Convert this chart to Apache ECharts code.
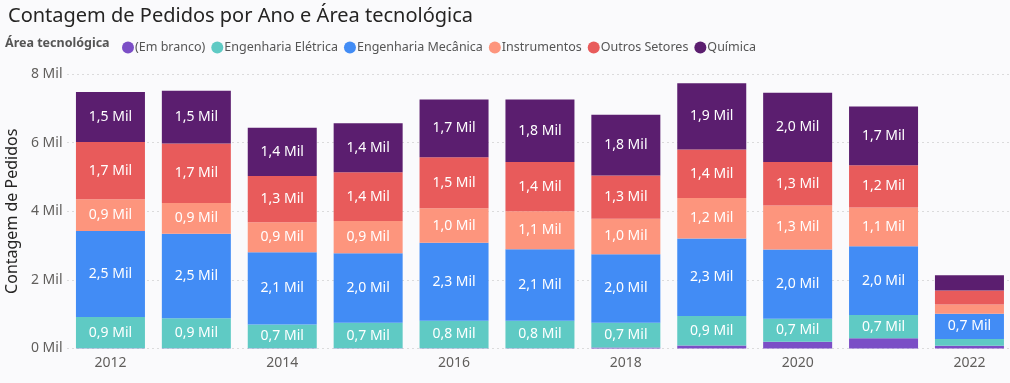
<!DOCTYPE html>
<html>
<head>
<meta charset="utf-8">
<script src="https://cdn.jsdelivr.net/npm/echarts@6/dist/echarts.min.js"></script>
<style>
html,body{margin:0;padding:0;background:#fafafc;}
#chart{width:1010px;height:383px;}
</style>
</head>
<body>
<div id="chart"></div>
<script>
const years = ['2012','2013','2014','2015','2016','2017','2018','2019','2020','2021','2022'];
const emBranco    = [5, 5, 5, 5, 10, 10, 30, 90, 200, 296, 80];
const engEletrica = [915, 878, 698, 745, 800, 800, 720, 855, 670, 679, 195];
const engMecanica = [2502, 2460, 2104, 2026, 2269, 2085, 1997, 2260, 2016, 2007, 737];
const instrumentos= [931, 895, 870, 940, 1008, 1105, 1038, 1183, 1280, 1125, 272];
const outrosSetores=[1668, 1736, 1348, 1421, 1484, 1435, 1260, 1415, 1271, 1230, 407];
const quimica     = [1454, 1541, 1406, 1430, 1687, 1823, 1765, 1930, 2017, 1718, 446];
const yTicks = [0, 2000, 4000, 6000, 8000];

const names = ['(Em branco)','Engenharia Elétrica','Engenharia Mecânica','Instrumentos','Outros Setores','Química'];
const colors = ['#7b4ec6','#5fcac4','#428cf5','#fd957d','#e85b5b','#5b1e6f'];
const dataSets = [emBranco, engEletrica, engMecanica, instrumentos, outrosSetores, quimica];

const fontFam = '"Segoe UI", "Noto Sans", sans-serif';
function fmt(v){ return (v/1000).toFixed(1).replace('.', ',') + ' Mil'; }

const series = dataSets.map((d, i) => ({
  name: names[i],
  type: 'bar',
  stack: 'total',
  data: d,
  barWidth: 69,
  itemStyle: { color: colors[i] },
  label: {
    show: true,
    position: 'inside',
    color: '#ffffff',
    fontSize: 14,
    fontFamily: fontFam,
    formatter: p => (p.value >= 500 ? fmt(p.value) : '')
  },
  emphasis: { disabled: true }
}));

const chart = echarts.init(document.getElementById('chart'), null, {renderer: 'canvas'});
chart.setOption({
  backgroundColor: '#fafafc',
  animation: false,
  title: {
    text: 'Contagem de Pedidos por Ano e Área tecnológica',
    left: 3, top: 1,
    textStyle: { fontSize: 20, fontWeight: 'normal', color: '#252423', fontFamily: fontFam }
  },
  graphic: [{
    type: 'text', left: 5, top: 37,
    style: { text: 'Área tecnológica', fontSize: 12.5, fontWeight: 'bold', fill: '#555', fontFamily: fontFam }
  }],
  legend: {
    left: 117, top: 36,
    icon: 'circle', itemWidth: 12, itemHeight: 12, itemGap: 6,
    textStyle: { fontSize: 12.5, color: '#555', fontFamily: fontFam, padding: [0,0,0,-4] },
    data: names
  },
  grid: { left: 67.5, right: -2.4, top: 74, bottom: 34.5, containLabel: false, outerBoundsMode: 'none' },
  xAxis: {
    type: 'category',
    data: years,
    axisLine: { show: false },
    axisTick: { show: false },
    axisLabel: { interval: 1, color: '#605e5c', fontSize: 14, fontFamily: fontFam, margin: 8 }
  },
  yAxis: {
    type: 'value',
    min: 0, max: 8000, interval: 2000,
    name: 'Contagem de Pedidos',
    nameLocation: 'middle', nameGap: 44, nameRotate: 90,
    nameTextStyle: { fontSize: 16, color: '#252423', fontFamily: fontFam },
    axisLabel: {
      color: '#605e5c', fontSize: 14, fontFamily: fontFam, margin: 5,
      formatter: v => yTicks.includes(v) ? (v/1000) + ' Mil' : ''
    },
    splitLine: { lineStyle: { type: [1, 4], color: '#bdbdbd', width: 1 } }
  },
  series: series
});
</script>
</body>
</html>
